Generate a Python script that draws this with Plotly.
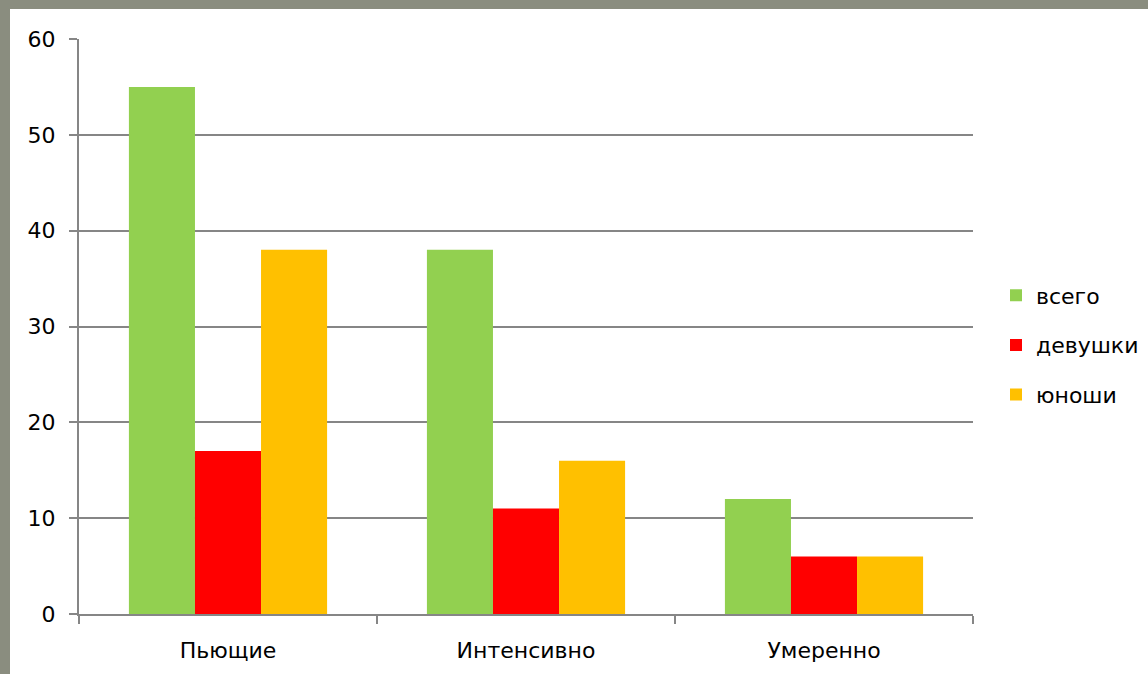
import plotly.graph_objects as go

categories = ["Пьющие", "Интенсивно", "Умеренно"]
vsego = [55, 38, 12]
devushki = [17, 11, 6]
yunoshi = [38, 16, 6]
series_names = ["всего", "девушки", "юноши"]
colors = ["#92D050", "#FF0000", "#FFC000"]

W, H = 1148, 674
L, R, T, B = 79, 175, 39, 60
pw, ph = W - L - R, H - T - B

fig = go.Figure()
for i, (name, vals, col) in enumerate(zip(series_names, [vsego, devushki, yunoshi], colors)):
    fig.add_trace(go.Bar(x=categories, y=vals, name=name, marker=dict(color=col, line=dict(width=0)),
                         legendgroup=name))

grid = "#868686"
border = "#8a8d7f"
font = dict(family="DejaVu Sans", size=22, color="#000000")


def px_x(p):
    return (p - L) / pw


def px_y(p):
    return (T + ph - p) / ph


fig.update_layout(
    width=W, height=H, autosize=False,
    margin=dict(l=L, r=R, t=T, b=B, pad=0),
    paper_bgcolor="#FFFFFF",
    plot_bgcolor="#FFFFFF",
    barmode="group",
    bargap=0.335,
    bargroupgap=0,
    font=font,
    showlegend=True,
    legend=dict(xref="container", yref="container", x=996 / W, xanchor="left",
                y=1 - 345 / H, yanchor="middle",
                tracegroupgap=18, font=font, bgcolor="rgba(0,0,0,0)"),
    xaxis=dict(type="category", showgrid=False, showline=True, linecolor=grid, linewidth=2,
               ticks="outside", tickson="boundaries", ticklen=8, tickwidth=2, tickcolor=grid,
               tickfont=font, ticklabelstandoff=16),
    yaxis=dict(range=[0, 60], dtick=10, showgrid=True, gridcolor=grid, gridwidth=2,
               showline=True, linecolor=grid, linewidth=2, ticks="outside", ticklen=8,
               tickwidth=2, tickcolor=grid, zeroline=False, tickfont=font, ticklabelstandoff=9),
    shapes=[
        dict(type="rect", xref="paper", yref="paper",
             x0=px_x(-5), x1=px_x(W + 5), y0=px_y(9), y1=px_y(-5),
             fillcolor=border, line=dict(width=0), layer="below"),
        dict(type="rect", xref="paper", yref="paper",
             x0=px_x(-5), x1=px_x(10), y0=px_y(H + 5), y1=px_y(-5),
             fillcolor=border, line=dict(width=0), layer="below"),
    ],
)

fig.write_html(
    "out.html",
    config={"responsive": False, "displayModeBar": False},
    post_script=(
        "document.documentElement.style.overflow='hidden';"
        "document.documentElement.style.background='#fff';"
        "document.body.style.margin='0';document.body.style.overflow='hidden';"
        "document.body.style.background='#fff';"
    ),
)
